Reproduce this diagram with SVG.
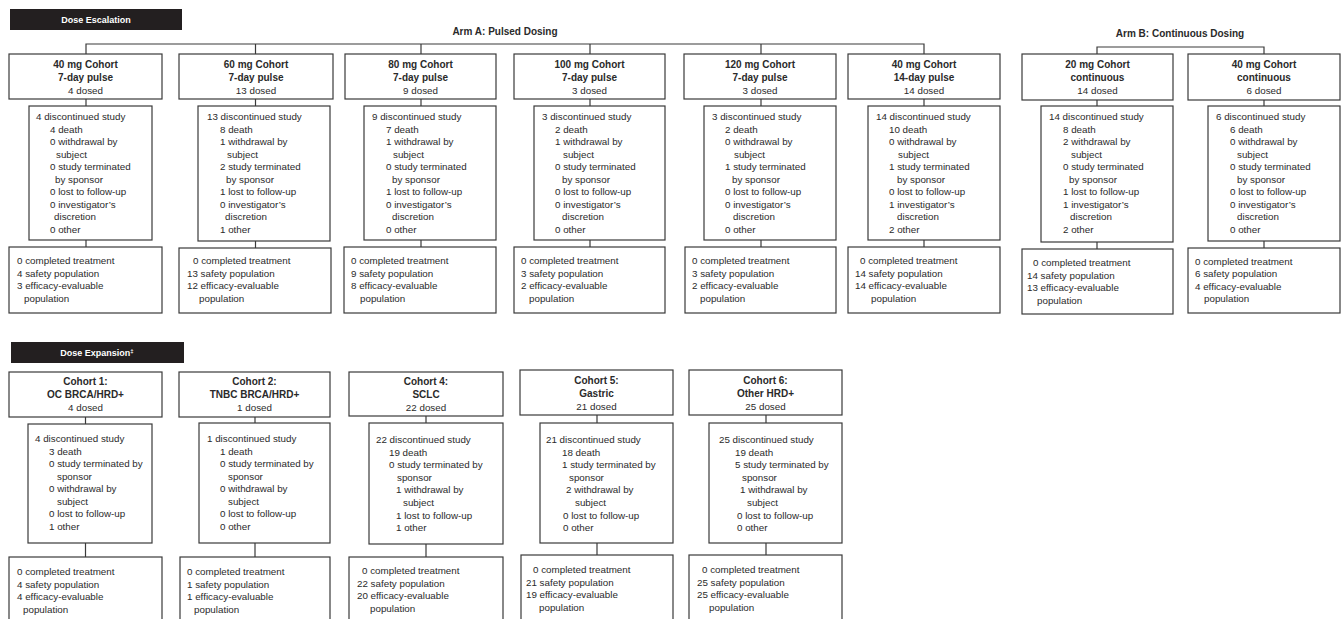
<svg xmlns="http://www.w3.org/2000/svg" width="1341" height="619" viewBox="0 0 1341 619">
<style>
.box{fill:#fff;stroke:#3a3a3a;stroke-width:1.2}
.bar{fill:#231f20}
text{font-family:"Liberation Sans",Arial,sans-serif;font-size:9.8px;fill:#2a2a2a}
.b{font-weight:bold;font-size:10px}
.c{text-anchor:middle}
.hd{font-weight:bold;font-size:9px;fill:#fff;text-anchor:middle}
.arm{font-weight:bold;font-size:10px;text-anchor:middle}
.conn line,.conn polyline{stroke:#3a3a3a;stroke-width:1.2;fill:none}
</style>
<rect width="1341" height="619" fill="#fff"/>

<g id="hdr-esc"><rect class="bar" x="10" y="9" width="172" height="21"/><text class="hd" x="96" y="23">Dose Escalation</text></g>
<g id="hdr-armA"><text class="arm" x="505" y="35">Arm A: Pulsed Dosing</text></g>
<g id="hdr-armB"><text class="arm" x="1180" y="37">Arm B: Continuous Dosing</text></g>
<g id="hdr-exp"><rect class="bar" x="11" y="342" width="173" height="21"/><text class="hd" x="97" y="356">Dose Expansion<tspan font-size="6" dy="-3">‡</tspan></text></g>

<g class="conn" id="connectors">
<polyline points="86,54 86,44 924,44 924,54"/>
<line x1="255.5" y1="44" x2="255.5" y2="54"/>
<line x1="421" y1="44" x2="421" y2="54"/>
<line x1="590" y1="44" x2="590" y2="54"/>
<line x1="761" y1="44" x2="761" y2="54"/>
<polyline points="1097,54 1097,47 1264,47 1264,54"/>
<line x1="86" y1="99" x2="86" y2="106"/><line x1="86" y1="240" x2="86" y2="247"/>
<line x1="255.5" y1="99" x2="255.5" y2="106"/><line x1="255.5" y1="241" x2="255.5" y2="248"/>
<line x1="421" y1="99" x2="421" y2="106"/><line x1="421" y1="240" x2="421" y2="247"/>
<line x1="590" y1="99" x2="590" y2="106"/><line x1="590" y1="240" x2="590" y2="247"/>
<line x1="761" y1="99" x2="761" y2="106"/><line x1="761" y1="240" x2="761" y2="247"/>
<line x1="924" y1="99" x2="924" y2="106"/><line x1="924" y1="240" x2="924" y2="247"/>
<line x1="1097" y1="100" x2="1097" y2="106"/><line x1="1097" y1="242" x2="1097" y2="249"/>
<line x1="1264" y1="100" x2="1264" y2="106"/><line x1="1264" y1="241" x2="1264" y2="248"/>
<line x1="85.5" y1="417" x2="85.5" y2="424"/><line x1="85.5" y1="543" x2="85.5" y2="557"/>
<line x1="255" y1="417" x2="255" y2="423"/><line x1="255" y1="543" x2="255" y2="557"/>
<line x1="426" y1="416" x2="426" y2="423"/><line x1="426" y1="544" x2="426" y2="557"/>
<line x1="597" y1="415" x2="597" y2="423"/><line x1="597" y1="543" x2="597" y2="555"/>
<line x1="766" y1="415" x2="766" y2="423"/><line x1="766" y1="543" x2="766" y2="555"/>
</g>

<!-- ===== Escalation column 1: 40 mg 7-day ===== -->
<g id="e1-top"><rect class="box" x="9" y="54" width="153" height="45"/>
<text class="b c" x="85.5" y="68">40 mg Cohort</text><text class="b c" x="85.5" y="81">7-day pulse</text><text class="c" x="85.5" y="94">4 dosed</text></g>
<g id="e1-mid"><rect class="box" x="29" y="106" width="123" height="134"/>
<text x="36" y="120">4 discontinued study</text>
<text x="50" y="132.5">4 death</text>
<text x="50" y="145">0 withdrawal by</text>
<text x="56" y="157.5">subject</text>
<text x="50" y="170">0 study terminated</text>
<text x="55" y="182.5">by sponsor</text>
<text x="50" y="195">0 lost to follow-up</text>
<text x="50" y="207.5">0 investigator’s</text>
<text x="54" y="220">discretion</text>
<text x="50" y="232.5">0 other</text></g>
<g id="e1-bot"><rect class="box" x="9" y="247" width="153" height="66"/>
<text x="17" y="264">0 completed treatment</text>
<text x="17" y="276.5">4 safety population</text>
<text x="17" y="289">3 efficacy-evaluable</text>
<text x="24" y="301.5">population</text></g>

<!-- ===== column 2: 60 mg ===== -->
<g id="e2-top"><rect class="box" x="179" y="54" width="154" height="45"/>
<text class="b c" x="256" y="68">60 mg Cohort</text><text class="b c" x="256" y="81">7-day pulse</text><text class="c" x="256" y="94">13 dosed</text></g>
<g id="e2-mid"><rect class="box" x="198" y="106" width="132" height="135"/>
<text x="207" y="120">13 discontinued study</text>
<text x="220" y="132.5">8 death</text>
<text x="220" y="145">1 withdrawal by</text>
<text x="227" y="157.5">subject</text>
<text x="220" y="170">2 study terminated</text>
<text x="226" y="182.5">by sponsor</text>
<text x="220" y="195">1 lost to follow-up</text>
<text x="220" y="207.5">0 investigator’s</text>
<text x="225" y="220">discretion</text>
<text x="220" y="232.5">1 other</text></g>
<g id="e2-bot"><rect class="box" x="179" y="248" width="152" height="65"/>
<text x="193" y="264">0 completed treatment</text>
<text x="187" y="276.5">13 safety population</text>
<text x="187" y="289">12 efficacy-evaluable</text>
<text x="199" y="301.5">population</text></g>

<!-- ===== column 3: 80 mg ===== -->
<g id="e3-top"><rect class="box" x="345" y="54" width="151" height="45"/>
<text class="b c" x="420.5" y="68">80 mg Cohort</text><text class="b c" x="420.5" y="81">7-day pulse</text><text class="c" x="420.5" y="94">9 dosed</text></g>
<g id="e3-mid"><rect class="box" x="364" y="106" width="132" height="134"/>
<text x="372" y="120">9 discontinued study</text>
<text x="386" y="132.5">7 death</text>
<text x="386" y="145">1 withdrawal by</text>
<text x="393" y="157.5">subject</text>
<text x="386" y="170">0 study terminated</text>
<text x="392" y="182.5">by sponsor</text>
<text x="386" y="195">1 lost to follow-up</text>
<text x="386" y="207.5">0 investigator’s</text>
<text x="392" y="220">discretion</text>
<text x="386" y="232.5">0 other</text></g>
<g id="e3-bot"><rect class="box" x="344" y="247" width="152" height="66"/>
<text x="351" y="264">0 completed treatment</text>
<text x="351" y="276.5">9 safety population</text>
<text x="351" y="289">8 efficacy-evaluable</text>
<text x="360" y="301.5">population</text></g>

<!-- ===== column 4: 100 mg ===== -->
<g id="e4-top"><rect class="box" x="514" y="54" width="151" height="45"/>
<text class="b c" x="589.5" y="68">100 mg Cohort</text><text class="b c" x="589.5" y="81">7-day pulse</text><text class="c" x="589.5" y="94">3 dosed</text></g>
<g id="e4-mid"><rect class="box" x="534" y="106" width="131" height="134"/>
<text x="542" y="120">3 discontinued study</text>
<text x="555" y="132.5">2 death</text>
<text x="555" y="145">1 withdrawal by</text>
<text x="563" y="157.5">subject</text>
<text x="555" y="170">0 study terminated</text>
<text x="562" y="182.5">by sponsor</text>
<text x="555" y="195">0 lost to follow-up</text>
<text x="555" y="207.5">0 investigator’s</text>
<text x="562" y="220">discretion</text>
<text x="555" y="232.5">0 other</text></g>
<g id="e4-bot"><rect class="box" x="514" y="247" width="151" height="66"/>
<text x="521" y="264">0 completed treatment</text>
<text x="521" y="276.5">3 safety population</text>
<text x="521" y="289">2 efficacy-evaluable</text>
<text x="529" y="301.5">population</text></g>

<!-- ===== column 5: 120 mg ===== -->
<g id="e5-top"><rect class="box" x="684" y="54" width="152" height="45"/>
<text class="b c" x="760" y="68">120 mg Cohort</text><text class="b c" x="760" y="81">7-day pulse</text><text class="c" x="760" y="94">3 dosed</text></g>
<g id="e5-mid"><rect class="box" x="704" y="106" width="132" height="134"/>
<text x="712" y="120">3 discontinued study</text>
<text x="725" y="132.5">2 death</text>
<text x="725" y="145">0 withdrawal by</text>
<text x="734" y="157.5">subject</text>
<text x="725" y="170">1 study terminated</text>
<text x="732" y="182.5">by sponsor</text>
<text x="725" y="195">0 lost to follow-up</text>
<text x="725" y="207.5">0 investigator’s</text>
<text x="733" y="220">discretion</text>
<text x="725" y="232.5">0 other</text></g>
<g id="e5-bot"><rect class="box" x="685" y="247" width="151" height="66"/>
<text x="692" y="264">0 completed treatment</text>
<text x="692" y="276.5">3 safety population</text>
<text x="692" y="289">2 efficacy-evaluable</text>
<text x="700" y="301.5">population</text></g>

<!-- ===== column 6: 40 mg 14-day ===== -->
<g id="e6-top"><rect class="box" x="848" y="54" width="152" height="45"/>
<text class="b c" x="924" y="68">40 mg Cohort</text><text class="b c" x="924" y="81">14-day pulse</text><text class="c" x="924" y="94">14 dosed</text></g>
<g id="e6-mid"><rect class="box" x="868" y="106" width="132" height="134"/>
<text x="876" y="120">14 discontinued study</text>
<text x="889" y="132.5">10 death</text>
<text x="889" y="145">0 withdrawal by</text>
<text x="898" y="157.5">subject</text>
<text x="889" y="170">1 study terminated</text>
<text x="897" y="182.5">by sponsor</text>
<text x="889" y="195">0 lost to follow-up</text>
<text x="889" y="207.5">1 investigator’s</text>
<text x="897" y="220">discretion</text>
<text x="889" y="232.5">2 other</text></g>
<g id="e6-bot"><rect class="box" x="848" y="247" width="152" height="66"/>
<text x="860" y="264">0 completed treatment</text>
<text x="855" y="276.5">14 safety population</text>
<text x="855" y="289">14 efficacy-evaluable</text>
<text x="871" y="301.5">population</text></g>

<!-- ===== column 7: 20 mg continuous ===== -->
<g id="e7-top"><rect class="box" x="1022" y="54" width="151" height="46"/>
<text class="b c" x="1097.5" y="68">20 mg Cohort</text><text class="b c" x="1097.5" y="81">continuous</text><text class="c" x="1097.5" y="94">14 dosed</text></g>
<g id="e7-mid"><rect class="box" x="1041" y="106" width="132" height="136"/>
<text x="1049" y="120">14 discontinued study</text>
<text x="1063" y="132.5">8 death</text>
<text x="1063" y="145">2 withdrawal by</text>
<text x="1071" y="157.5">subject</text>
<text x="1063" y="170">0 study terminated</text>
<text x="1069" y="182.5">by sponsor</text>
<text x="1063" y="195">1 lost to follow-up</text>
<text x="1063" y="207.5">1 investigator’s</text>
<text x="1070" y="220">discretion</text>
<text x="1063" y="232.5">2 other</text></g>
<g id="e7-bot"><rect class="box" x="1022" y="249" width="151" height="65"/>
<text x="1033" y="266">0 completed treatment</text>
<text x="1027" y="278.5">14 safety population</text>
<text x="1027" y="291">13 efficacy-evaluable</text>
<text x="1037" y="303.5">population</text></g>

<!-- ===== column 8: 40 mg continuous ===== -->
<g id="e8-top"><rect class="box" x="1188" y="54" width="152" height="46"/>
<text class="b c" x="1264" y="68">40 mg Cohort</text><text class="b c" x="1264" y="81">continuous</text><text class="c" x="1264" y="94">6 dosed</text></g>
<g id="e8-mid"><rect class="box" x="1208" y="106" width="132" height="135"/>
<text x="1216" y="120">6 discontinued study</text>
<text x="1230" y="132.5">6 death</text>
<text x="1230" y="145">0 withdrawal by</text>
<text x="1237" y="157.5">subject</text>
<text x="1230" y="170">0 study terminated</text>
<text x="1237" y="182.5">by sponsor</text>
<text x="1230" y="195">0 lost to follow-up</text>
<text x="1230" y="207.5">0 investigator’s</text>
<text x="1237" y="220">discretion</text>
<text x="1230" y="232.5">0 other</text></g>
<g id="e8-bot"><rect class="box" x="1188" y="248" width="152" height="65"/>
<text x="1195" y="264.5">0 completed treatment</text>
<text x="1195" y="277">6 safety population</text>
<text x="1195" y="289.5">4 efficacy-evaluable</text>
<text x="1204" y="302">population</text></g>

<!-- ===== Expansion cohort 1 ===== -->
<g id="x1-top"><rect class="box" x="9" y="372" width="153" height="45"/>
<text class="b c" x="85.5" y="385">Cohort 1:</text><text class="b c" x="85.5" y="398">OC BRCA/HRD+</text><text class="c" x="85.5" y="411">4 dosed</text></g>
<g id="x1-mid"><rect class="box" x="28" y="424" width="124" height="119"/>
<text x="35" y="442">4 discontinued study</text>
<text x="49" y="454.5">3 death</text>
<text x="49" y="467">0 study terminated by</text>
<text x="57" y="479.5">sponsor</text>
<text x="49" y="492">0 withdrawal by</text>
<text x="57" y="504.5">subject</text>
<text x="49" y="517">0 lost to follow-up</text>
<text x="49" y="529.5">1 other</text></g>
<g id="x1-bot"><rect class="box" x="9" y="557" width="153" height="80"/>
<text x="17" y="575">0 completed treatment</text>
<text x="17" y="587.5">4 safety population</text>
<text x="17" y="600">4 efficacy-evaluable</text>
<text x="23" y="612.5">population</text></g>

<!-- ===== Expansion cohort 2 ===== -->
<g id="x2-top"><rect class="box" x="179" y="372" width="151" height="45"/>
<text class="b c" x="254.5" y="385">Cohort 2:</text><text class="b c" x="254.5" y="398">TNBC BRCA/HRD+</text><text class="c" x="254.5" y="411">1 dosed</text></g>
<g id="x2-mid"><rect class="box" x="199" y="423" width="131" height="120"/>
<text x="207" y="442">1 discontinued study</text>
<text x="220" y="454.5">1 death</text>
<text x="220" y="467">0 study terminated by</text>
<text x="228" y="479.5">sponsor</text>
<text x="220" y="492">0 withdrawal by</text>
<text x="228" y="504.5">subject</text>
<text x="220" y="517">0 lost to follow-up</text>
<text x="220" y="529.5">0 other</text></g>
<g id="x2-bot"><rect class="box" x="180" y="557" width="150" height="80"/>
<text x="187" y="575">0 completed treatment</text>
<text x="187" y="587.5">1 safety population</text>
<text x="187" y="600">1 efficacy-evaluable</text>
<text x="194" y="612.5">population</text></g>

<!-- ===== Expansion cohort 4 ===== -->
<g id="x4-top"><rect class="box" x="349" y="372" width="154" height="44"/>
<text class="b c" x="426" y="385">Cohort 4:</text><text class="b c" x="426" y="398">SCLC</text><text class="c" x="426" y="411">22 dosed</text></g>
<g id="x4-mid"><rect class="box" x="369" y="423" width="134" height="121"/>
<text x="376" y="443">22 discontinued study</text>
<text x="389" y="455.6">19 death</text>
<text x="389" y="468.2">0 study terminated by</text>
<text x="397" y="480.8">sponsor</text>
<text x="396" y="493.4">1 withdrawal by</text>
<text x="403" y="506">subject</text>
<text x="396" y="518.6">1 lost to follow-up</text>
<text x="396" y="531.2">1 other</text></g>
<g id="x4-bot"><rect class="box" x="349" y="557" width="154" height="80"/>
<text x="362" y="574">0 completed treatment</text>
<text x="357" y="586.5">22 safety population</text>
<text x="357" y="599">20 efficacy-evaluable</text>
<text x="370" y="611.5">population</text></g>

<!-- ===== Expansion cohort 5 ===== -->
<g id="x5-top"><rect class="box" x="520" y="370" width="153" height="45"/>
<text class="b c" x="596.5" y="384">Cohort 5:</text><text class="b c" x="596.5" y="397">Gastric</text><text class="c" x="596.5" y="410">21 dosed</text></g>
<g id="x5-mid"><rect class="box" x="540" y="423" width="133" height="120"/>
<text x="546" y="443">21 discontinued study</text>
<text x="562" y="455.6">18 death</text>
<text x="562" y="468.2">1 study terminated by</text>
<text x="569" y="480.8">sponsor</text>
<text x="566" y="493.4">2 withdrawal by</text>
<text x="575" y="506">subject</text>
<text x="563" y="518.6">0 lost to follow-up</text>
<text x="563" y="531.2">0 other</text></g>
<g id="x5-bot"><rect class="box" x="521" y="555" width="152" height="80"/>
<text x="533" y="573">0 completed treatment</text>
<text x="526" y="585.5">21 safety population</text>
<text x="526" y="598">19 efficacy-evaluable</text>
<text x="539" y="610.5">population</text></g>

<!-- ===== Expansion cohort 6 ===== -->
<g id="x6-top"><rect class="box" x="689" y="370" width="153" height="45"/>
<text class="b c" x="765.5" y="384">Cohort 6:</text><text class="b c" x="765.5" y="397">Other HRD+</text><text class="c" x="765.5" y="410">25 dosed</text></g>
<g id="x6-mid"><rect class="box" x="709" y="423" width="133" height="120"/>
<text x="719" y="443">25 discontinued study</text>
<text x="735" y="455.6">19 death</text>
<text x="735" y="468.2">5 study terminated by</text>
<text x="742" y="480.8">sponsor</text>
<text x="740" y="493.4">1 withdrawal by</text>
<text x="747" y="506">subject</text>
<text x="737" y="518.6">0 lost to follow-up</text>
<text x="737" y="531.2">0 other</text></g>
<g id="x6-bot"><rect class="box" x="689" y="555" width="153" height="80"/>
<text x="702" y="573">0 completed treatment</text>
<text x="697" y="585.5">25 safety population</text>
<text x="697" y="598">25 efficacy-evaluable</text>
<text x="709" y="610.5">population</text></g>
</svg>
